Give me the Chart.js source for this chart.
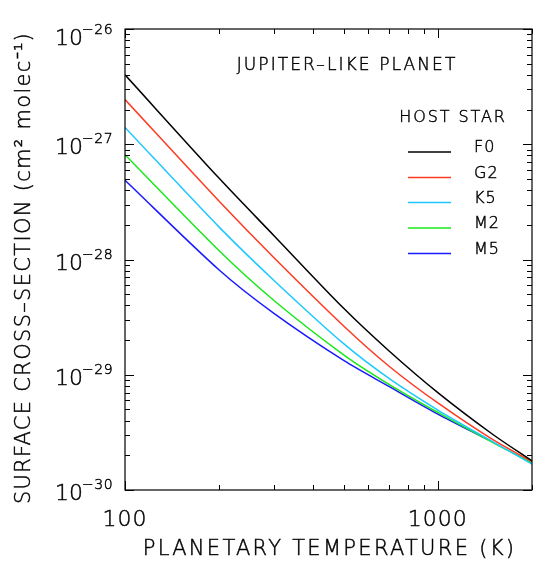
<!DOCTYPE html>
<html>
<head>
<meta charset="utf-8">
<script src="https://cdn.jsdelivr.net/npm/chart.js@4.4.1/dist/chart.umd.min.js"></script>
<style>
html,body{margin:0;padding:0;background:#fff;}
#c{display:block;}
</style>
</head>
<body>
<canvas id="c" width="533" height="561"></canvas>
<script>
// ---- data ----
const temps   = [100, 200, 300, 500, 700, 1000, 1500, 2000];
const tempsM5 = [100, 200, 300, 500, 700, 1000, 1450];
const seriesNames = ['F0', 'G2', 'K5', 'M2', 'M5'];
const F0 = [4.0e-27, 5.06e-28, 1.6e-28, 3.77e-29, 1.6e-29, 7.0e-30, 3.03e-30, 1.79e-30];
const G2 = [2.44e-27, 3.2e-28, 1.03e-28, 2.65e-29, 1.18e-29, 5.69e-30, 2.73e-30, 1.76e-30];
const K5 = [1.40e-27, 1.91e-28, 6.55e-29, 1.86e-29, 9.24e-30, 4.94e-30, 2.62e-30, 1.68e-30];
const M2 = [8.1e-28, 1.19e-28, 4.39e-29, 1.49e-29, 8.22e-30, 4.71e-30, 2.58e-30, 1.72e-30];
const M5 = [4.87e-28, 8.1e-29, 3.39e-29, 1.33e-29, 7.88e-30, 4.56e-30, 2.72e-30];
const xTickLabels = [100, 1000];
const yTickExponents = [-26, -27, -28, -29, -30];
const colors = ['#000000', '#ff3a22', '#1ec8ff', '#18e818', '#1a1aff'];
const xTitle = 'PLANETARY TEMPERATURE (K)';
const yTitle = 'SURFACE CROSS\u2013SECTION (cm\u00B2 molec\u207B\u00B9)';
const panelTitle = 'JUPITER\u2013LIKE PLANET';
const legendTitle = 'HOST STAR';

function pts(xs, ys){ return xs.map((x,i)=>({x:x, y:ys[i]})); }
const allData = [pts(temps,F0), pts(temps,G2), pts(temps,K5), pts(temps,M2), pts(tempsM5,M5)];

const FONT = "'DejaVu Sans', sans-serif";
const TXT = '#000';

function txt(ctx, s, x, y, spacing){
  ctx.letterSpacing = (spacing || 0) + 'px';
  ctx.fillText(s, x, y);
  ctx.strokeText(s, x, y);
  ctx.letterSpacing = '0px';
}

const decoPlugin = {
  id: 'deco',
  afterDraw(chart){
    const ctx = chart.ctx;
    const a = chart.chartArea;
    const xs = chart.scales.x, ys = chart.scales.y;
    ctx.save();
    // box
    ctx.strokeStyle = '#000';
    ctx.lineWidth = 1.2;
    ctx.strokeRect(a.left, a.top, a.right - a.left, a.bottom - a.top);
    // ticks
    ctx.lineWidth = 1;
    ctx.beginPath();
    const majorL = 9, minorL = 5;
    for (let d = 2; d <= 3; d++) {
      for (let m = 1; m <= 9; m++) {
        const v = m * Math.pow(10, d);
        if (v < xs.min || v > xs.max) continue;
        const px = Math.round(xs.getPixelForValue(v)) + 0.5;
        const L = (m === 1) ? majorL : minorL;
        ctx.moveTo(px, a.bottom); ctx.lineTo(px, a.bottom - L);
        ctx.moveTo(px, a.top); ctx.lineTo(px, a.top + L);
      }
    }
    for (let d = -30; d <= -26; d++) {
      for (let m = 1; m <= 9; m++) {
        const v = m * Math.pow(10, d);
        if (v < ys.min * 0.999 || v > ys.max * 1.001) continue;
        const py = Math.round(ys.getPixelForValue(v)) + 0.5;
        const L = (m === 1) ? majorL : minorL;
        ctx.moveTo(a.left, py); ctx.lineTo(a.left + L, py);
        ctx.moveTo(a.right, py); ctx.lineTo(a.right - L, py);
      }
    }
    ctx.stroke();

    ctx.fillStyle = TXT;
    ctx.strokeStyle = TXT;
    ctx.lineWidth = 0.45;
    // x tick labels
    ctx.font = "200 22px " + FONT;
    ctx.textAlign = 'center';
    ctx.textBaseline = 'alphabetic';
    xTickLabels.forEach(v => {
      txt(ctx, String(v), xs.getPixelForValue(v), 526, 1);
    });
    // y tick labels
    yTickExponents.forEach(e => {
      const py = ys.getPixelForValue(Math.pow(10, e));
      const cy = Math.max(py + 2, a.top + 8);
      ctx.font = "200 22px " + FONT;
      ctx.textAlign = 'left';
      txt(ctx, '10', 55, cy + 8, 0);
      ctx.font = "200 14px " + FONT;
      txt(ctx, '\u2212' + String(Math.abs(e)), 82, cy - 3, 0.5);
    });
    // axis titles
    ctx.font = "200 21px " + FONT;
    ctx.textAlign = 'center';
    txt(ctx, xTitle, (a.left + a.right) / 2 + 1, 555, 2.3);
    ctx.save();
    ctx.translate(30, 268);
    ctx.rotate(-Math.PI / 2);
    txt(ctx, yTitle, 0, 0, 1.3);
    ctx.restore();
    // panel title and legend
    ctx.font = "200 17px " + FONT;
    ctx.textAlign = 'center';
    txt(ctx, panelTitle, 347, 70, 2.1);
    ctx.font = "200 16px " + FONT;
    txt(ctx, legendTitle, 453, 122, 1.9);
    const legY = [152, 177.5, 202.5, 228, 253.5];
    chart.data.datasets.forEach((ds, i) => {
      const y = legY[i];
      ctx.save();
      ctx.strokeStyle = ds.borderColor;
      ctx.lineWidth = 1.5;
      ctx.beginPath();
      ctx.moveTo(408, y); ctx.lineTo(451, y);
      ctx.stroke();
      ctx.restore();
      ctx.textAlign = 'left';
      txt(ctx, ds.label, 474, y, 1);
    });
    ctx.restore();
  }
};

new Chart(document.getElementById('c'), {
  type: 'line',
  data: {
    datasets: seriesNames.map((n, i) => ({
      label: n,
      data: allData[i],
      borderColor: colors[i],
      backgroundColor: colors[i],
      borderWidth: 1.5,
      pointRadius: 0,
      fill: false,
      tension: 0.3
    }))
  },
  options: {
    responsive: false,
    devicePixelRatio: 1,
    animation: false,
    layout: { padding: { left: 0, right: 1, top: 29, bottom: 0 } },
    plugins: { legend: { display: false }, tooltip: { enabled: false } },
    scales: {
      x: {
        type: 'logarithmic', min: 100, max: 2000,
        grid: { display: false }, border: { display: false },
        ticks: { display: false },
        afterFit: s => { s.height = 71; }
      },
      y: {
        type: 'logarithmic', min: 1e-30, max: 1e-26,
        grid: { display: false }, border: { display: false },
        ticks: { display: false },
        afterFit: s => { s.width = 125; }
      }
    }
  },
  plugins: [decoPlugin]
});
</script>
</body>
</html>
